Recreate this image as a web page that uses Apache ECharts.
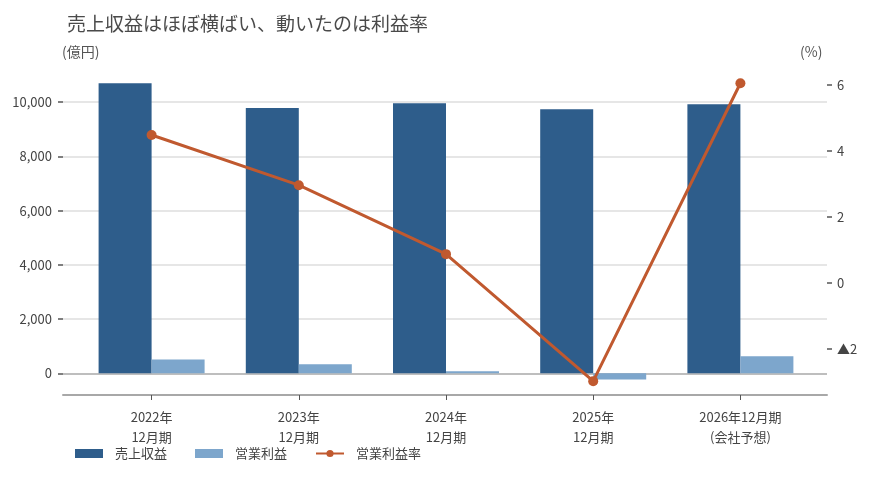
<!DOCTYPE html>
<html>
<head>
<meta charset="utf-8">
<script src="https://cdn.jsdelivr.net/npm/echarts@6/dist/echarts.min.js"></script>
<style>
  html, body { margin: 0; padding: 0; background: #fff; }
  #main { width: 870px; height: 477px; }
</style>
</head>
<body>
<div id="main"></div>
<script>
// 決算期
const categories = ['2022年\n12月期', '2023年\n12月期', '2024年\n12月期', '2025年\n12月期', '2026年12月期\n(会社予想)']
// 売上収益（億円）
const revenue = [10700, 9780, 9960, 9740, 9920]
// 営業利益（億円）
const operatingProfit = [510, 330, 80, -230, 630]
// 営業利益率（%）
const operatingMargin = [4.48, 2.96, 0.87, -2.98, 6.05]
// 目盛り
const leftTicks = [0, 2000, 4000, 6000, 8000, 10000]
const rightTicks = [-2, 0, 2, 4, 6]

const FONT = '"Noto Sans CJK JP", "Noto Sans", sans-serif'
const TEXT = '#444'
const DARK = '#2e5d8b'
const LIGHT = '#7da6cc'
const ORANGE = '#c0592f'

const leftRange = { min: -800, max: 11000 }
const rightRange = { min: -3.4, max: 6.3 }

let chart = echarts.init(document.getElementById('main'))

const option = {
  animation: false,
  textStyle: { fontFamily: FONT },
  title: {
    text: '売上収益はほぼ横ばい、動いたのは利益率',
    left: 62, top: 9,
    textStyle: { fontFamily: FONT, fontSize: 19, fontWeight: 'normal', color: '#4a4a4a' }
  },
  graphic: [
    { type: 'text', left: 62, top: 45, style: { text: '(億円)', font: '14px ' + FONT, fill: '#555' } },
    { type: 'text', left: 800, top: 45, style: { text: '(%)', font: '14px ' + FONT, fill: '#555' } }
  ],
  legend: {
    left: 75, top: 447, padding: 0,
    itemWidth: 28, itemHeight: 9, itemGap: 28,
    textStyle: { fontFamily: FONT, fontSize: 13, color: TEXT, padding: [0, 0, 0, 7] },
    data: [
      { name: '売上収益', icon: 'rect' },
      { name: '営業利益', icon: 'rect' },
      { name: '営業利益率' }
    ]
  },
  grid: [
    { left: 78, right: 56, top: 75, bottom: 82 },
    { left: 63, right: 43, top: 75, bottom: 82 }
  ],
  xAxis: [
    {
      type: 'category', gridIndex: 0, data: categories,
      axisLine: { show: false, onZero: false },
      axisTick: { show: true, alignWithLabel: true, length: 5, lineStyle: { color: '#555' } },
      axisLabel: { fontFamily: FONT, fontSize: 13, color: TEXT, lineHeight: 20, margin: 12 }
    },
    {
      type: 'value', gridIndex: 1, min: 0, max: 1,
      axisLine: { show: true, onZero: false, lineStyle: { color: '#a8a8a8', width: 2 } },
      axisTick: { show: false }, axisLabel: { show: false }, splitLine: { show: false }
    }
  ],
  yAxis: [
    { type: 'value', gridIndex: 0, show: false, ...leftRange, splitLine: { show: false } },
    { type: 'value', gridIndex: 0, show: false, ...rightRange, splitLine: { show: false } },
    {
      type: 'value', gridIndex: 1, position: 'left', ...leftRange,
      axisLine: { show: false },
      axisTick: { show: true, length: 5, customValues: leftTicks, lineStyle: { color: '#555', width: 1.5 } },
      axisLabel: {
        customValues: leftTicks, margin: 11,
        fontFamily: FONT, fontSize: 13, color: TEXT,
        formatter: v => v.toLocaleString('en-US')
      },
      splitLine: {
        show: true,
        lineStyle: { color: ['#a8a8a8', '#dedede', '#dedede', '#dedede', '#dedede', '#dedede'], width: 1.5 }
      }
    },
    {
      type: 'value', gridIndex: 1, position: 'right', ...rightRange,
      axisLine: { show: false },
      axisTick: { show: true, length: 5, customValues: rightTicks, lineStyle: { color: '#555', width: 1.5 } },
      axisLabel: {
        customValues: rightTicks, margin: 10,
        fontFamily: FONT, fontSize: 13, color: TEXT,
        formatter: v => (v < 0 ? '▲' + (-v) : String(v))
      },
      splitLine: { show: false }
    }
  ],
  series: [
    {
      name: '売上収益', type: 'bar', xAxisIndex: 0, yAxisIndex: 0,
      data: revenue, barWidth: 53, barGap: '0%',
      itemStyle: { color: DARK }
    },
    {
      name: '営業利益', type: 'bar', xAxisIndex: 0, yAxisIndex: 0,
      data: operatingProfit, barWidth: 53,
      itemStyle: { color: LIGHT }
    },
    {
      name: '営業利益率', type: 'line', xAxisIndex: 0, yAxisIndex: 1,
      data: operatingMargin,
      symbol: 'circle', symbolSize: 10,
      lineStyle: { color: ORANGE, width: 3 },
      itemStyle: { color: ORANGE },
      z: 5
    }
  ]
}

chart.setOption(option)
window.addEventListener('resize', () => chart.resize())
</script>
</body>
</html>
